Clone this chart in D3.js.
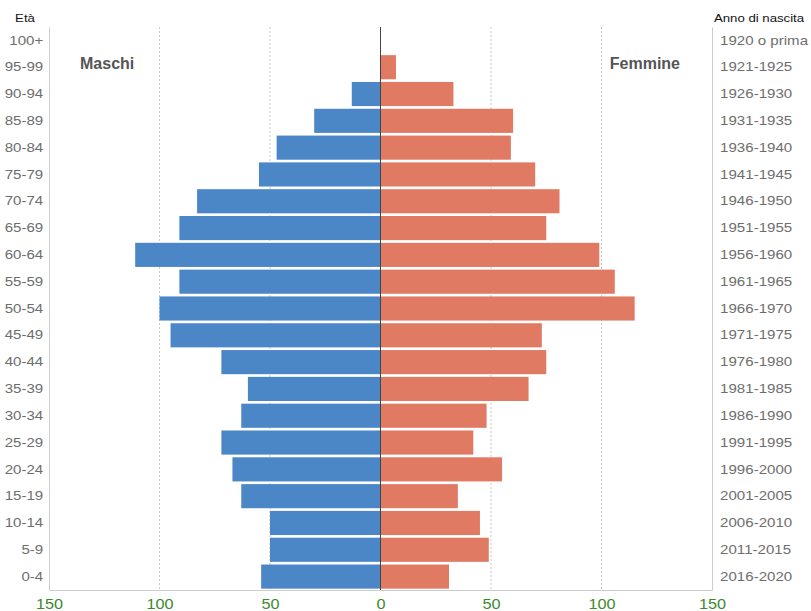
<!DOCTYPE html>
<html>
<head>
<meta charset="utf-8">
<script src="https://cdn.jsdelivr.net/npm/d3@7"></script>
<style>
  body { margin: 0; background: #fff; font-family: "Liberation Sans", Arial, sans-serif; }
</style>
</head>
<body>
<div id="chart"></div>
<script>
// classi di età (dall'alto verso il basso)
const ageGroups = ['100+', '95-99', '90-94', '85-89', '80-84', '75-79', '70-74', '65-69', '60-64', '55-59',
  '50-54', '45-49', '40-44', '35-39', '30-34', '25-29', '20-24', '15-19', '10-14', '5-9', '0-4'];
const birthYears = ['1920 o prima', '1921-1925', '1926-1930', '1931-1935', '1936-1940', '1941-1945', '1946-1950',
  '1951-1955', '1956-1960', '1961-1965', '1966-1970', '1971-1975', '1976-1980', '1981-1985', '1986-1990',
  '1991-1995', '1996-2000', '2001-2005', '2006-2010', '2011-2015', '2016-2020'];
const maschi = [0, 0, 13, 30, 47, 55, 83, 91, 111, 91, 100, 95, 72, 60, 63, 72, 67, 63, 50, 50, 54];
const femmine = [0, 7, 33, 60, 59, 70, 81, 75, 99, 106, 115, 73, 75, 67, 48, 42, 55, 35, 45, 49, 31];
const xTicks = [-150, -100, -50, 0, 50, 100, 150];

const width = 811, height = 611;
const margin = { top: 27, right: 99, bottom: 21, left: 49 };
const stretch = 'scale(1.16,1)'; // il riferimento ha testo un po' allargato

const svg = d3.select('#chart').append('svg')
  .attr('width', width)
  .attr('height', height);

const x = d3.scaleLinear()
  .domain([-150, 150])
  .range([margin.left, width - margin.right]);

const y = d3.scaleBand()
  .domain(ageGroups)
  .range([margin.top, height - margin.bottom])
  .paddingInner(0.1)
  .paddingOuter(0.05);

// griglia tratteggiata
svg.append('g')
  .selectAll('line')
  .data(xTicks.filter(d => Math.abs(d) !== 150 && d !== 0))
  .enter()
  .append('line')
  .attr('x1', d => x(d))
  .attr('x2', d => x(d))
  .attr('y1', margin.top)
  .attr('y2', height - margin.bottom)
  .attr('stroke', '#c8c8c8')
  .attr('stroke-dasharray', '2,2');

// barre maschi
svg.append('g')
  .selectAll('rect')
  .data(ageGroups)
  .enter()
  .append('rect')
  .attr('x', (d, i) => x(-maschi[i]))
  .attr('y', d => y(d))
  .attr('width', (d, i) => x(0) - x(-maschi[i]))
  .attr('height', y.bandwidth())
  .attr('fill', '#4b87c6');

// barre femmine
svg.append('g')
  .selectAll('rect')
  .data(ageGroups)
  .enter()
  .append('rect')
  .attr('x', x(0))
  .attr('y', d => y(d))
  .attr('width', (d, i) => x(femmine[i]) - x(0))
  .attr('height', y.bandwidth())
  .attr('fill', '#e07a63');

// linea centrale
svg.append('line')
  .attr('x1', x(0)).attr('x2', x(0))
  .attr('y1', margin.top).attr('y2', height - margin.bottom)
  .attr('stroke', '#444')
  .attr('stroke-width', 1);

// asse sinistro (età)
const yLeft = svg.append('g')
  .attr('transform', `translate(${margin.left},0)`)
  .call(d3.axisLeft(y).tickSize(0).tickPadding(5));
yLeft.select('.domain').attr('stroke', '#ccc');
yLeft.selectAll('text').attr('fill', '#6e6e6e').style('font-size', '13px').attr('transform', stretch);

// asse destro (anno di nascita)
const yRight = svg.append('g')
  .attr('transform', `translate(${width - margin.right},0)`)
  .call(d3.axisRight(y).tickSize(0).tickPadding(7).tickFormat((d, i) => birthYears[i]));
yRight.select('.domain').attr('stroke', '#ccc');
yRight.selectAll('text').attr('fill', '#6e6e6e').style('font-size', '13px').attr('transform', stretch);

// asse x
const xAxis = svg.append('g')
  .attr('transform', `translate(0,${height - margin.bottom})`)
  .call(d3.axisBottom(x).tickValues(xTicks).tickSize(0).tickPadding(9).tickFormat(d => Math.abs(d)));
xAxis.select('.domain').attr('stroke', '#ccc');
xAxis.selectAll('text').attr('fill', '#3b8a2e').style('font-size', '14px').attr('transform', stretch);

// titoli assi
svg.append('text')
  .attr('transform', 'translate(25,22) scale(1.2,1)')
  .attr('text-anchor', 'middle')
  .style('font-size', '11px')
  .attr('fill', '#111')
  .text('Età');
svg.append('text')
  .attr('transform', `translate(${width - margin.right + 2},22) scale(1.2,1)`)
  .style('font-size', '11px')
  .attr('fill', '#111')
  .text('Anno di nascita');

// etichette sesso
svg.append('text')
  .attr('x', 80).attr('y', 69)
  .style('font-size', '16px')
  .style('font-weight', 'bold')
  .attr('fill', '#555')
  .text('Maschi');
svg.append('text')
  .attr('x', 680).attr('y', 69)
  .attr('text-anchor', 'end')
  .style('font-size', '16px')
  .style('font-weight', 'bold')
  .attr('fill', '#555')
  .text('Femmine');
</script>
</body>
</html>
